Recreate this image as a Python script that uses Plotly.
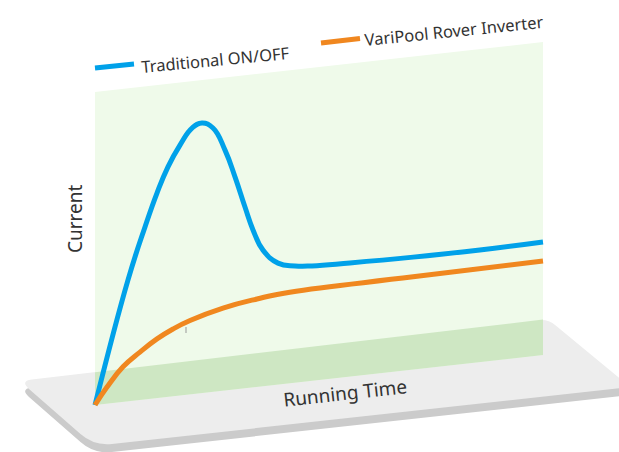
import plotly.graph_objects as go
import numpy as np

# ---- data (time 0..100, current 0..100 on the tilted panel) ----
time_blue = [0, 7.37, 11.16, 13.84, 16.29, 18.97, 21.65, 23.88, 26.34, 29.02, 31.25, 33.48, 35.27,
             37.5, 40.85, 44.64, 48.44, 56.9, 71.0, 85.9, 100]
current_blue = [0, 38.8, 55.1, 65.5, 73.5, 80.0, 85.0, 86.3, 84.3, 76.8, 67.9, 57.9, 50.3,
                43.5, 38.8, 37.3, 36.7, 36.3, 35.9, 35.8, 36.1]
time_orange = [0, 2.68, 6.25, 10.04, 13.84, 17.41, 21.21, 28.57, 36.16, 43.5, 71.0, 100]
current_orange = [0, 5.3, 11.2, 15.3, 18.9, 21.5, 23.6, 26.4, 28.1, 29.1, 29.6, 30.0]
series_names = ["Traditional ON/OFF", "VariPool Rover Inverter"]
x_label = "Running Time"
y_label = "Current"

BLUE = "#00a1e9"
ORANGE = "#f0871f"

# panel geometry (pixel space)
OX, OY = 95, 405
PW, PH, SHEAR = 448, 313, 50


def to_px(t, c):
    t = np.asarray(t, float)
    c = np.asarray(c, float)
    x = OX + t / 100 * PW
    y = OY - SHEAR * (x - OX) / PW - c / 100 * PH
    return x, y


def rounded_path(pts, radii):
    pts = [np.array(p, float) for p in pts]
    n = len(pts)
    d = ""
    for i in range(n):
        r = radii[i]
        p0, p1, p2 = pts[i - 1], pts[i], pts[(i + 1) % n]
        a = p1 + (p0 - p1) / np.linalg.norm(p0 - p1) * r
        b = p1 + (p2 - p1) / np.linalg.norm(p2 - p1) * r
        d += ("M" if i == 0 else "L") + f"{a[0]:.1f},{a[1]:.1f} Q{p1[0]:.1f},{p1[1]:.1f} {b[0]:.1f},{b[1]:.1f} "
    return d + "Z"


fig = go.Figure()

plat = [(20, 381), (548, 319), (630, 387), (94, 446)]
radii = [12, 10, 5, 18]
shadow = [(x, y + 8) for x, y in plat]
shapes = [
    dict(type="path", path=rounded_path(shadow, radii), fillcolor="#cbcbcb", line_width=0, layer="below"),
    dict(type="path", path=rounded_path(plat, radii), fillcolor="#ededed", line_width=0, layer="below"),
]
# panel
panel = f"M{OX},{OY - PH} L{OX + PW},{OY - SHEAR - PH} L{OX + PW},{OY - SHEAR} L{OX},{OY} Z"
shapes.append(dict(type="path", path=panel, fillcolor="#effaea", line_width=0, layer="below"))
# overlap of panel with platform
ty0 = 381 + (319 - 381) * (OX - 20) / (548 - 20)
ty1 = 381 + (319 - 381) * (OX + PW - 20) / (548 - 20)
overlap = f"M{OX},{ty0:.1f} L{OX + PW},{ty1:.1f} L{OX + PW},{OY - SHEAR} L{OX},{OY} Z"
shapes.append(dict(type="path", path=overlap, fillcolor="#cee7c3", line_width=0, layer="below"))
# small tick
shapes.append(dict(type="line", x0=186, x1=186, y0=327, y1=333, line=dict(color="#999999", width=1), layer="below"))
# legend swatches
shapes.append(dict(type="line", x0=95, y0=68, x1=134, y1=64, line=dict(color=BLUE, width=5)))
shapes.append(dict(type="line", x0=321, y0=43, x1=360, y1=38.5, line=dict(color=ORANGE, width=5)))

xb, yb = to_px(time_blue, current_blue)
xo, yo = to_px(time_orange, current_orange)
fig.add_trace(go.Scatter(x=xb, y=yb, mode="lines", name=series_names[0],
                         line=dict(color=BLUE, width=5, shape="spline", smoothing=1.3), hoverinfo="skip"))
fig.add_trace(go.Scatter(x=xo, y=yo, mode="lines", name=series_names[1],
                         line=dict(color=ORANGE, width=5, shape="spline", smoothing=1.3), hoverinfo="skip"))

font = dict(family="Noto Sans", color="#333333")
annotations = [
    dict(x=215.5, y=59, text=series_names[0], textangle=-5.4, font=dict(size=16.5, **font)),
    dict(x=453.5, y=30, text=series_names[1], textangle=-5.8, font=dict(size=16.5, **font)),
    dict(x=345, y=393, text=x_label, textangle=-6.4, font=dict(size=19, **font)),
    dict(x=75, y=219, text=y_label, textangle=-90, font=dict(size=19, **font)),
]
for a in annotations:
    a.update(xref="x", yref="y", showarrow=False)

fig.update_layout(
    width=619, height=452, margin=dict(l=0, r=0, t=0, b=0),
    paper_bgcolor="white", plot_bgcolor="white", showlegend=False,
    shapes=shapes, annotations=annotations,
    xaxis=dict(range=[0, 619], visible=False, fixedrange=True),
    yaxis=dict(range=[452, 0], visible=False, fixedrange=True),
)
# remove the page's default body margin so the figure fills the window exactly
fig.write_html("out.html", config={"displayModeBar": False},
               post_script="document.body.style.margin='0';document.body.style.overflow='hidden';")
